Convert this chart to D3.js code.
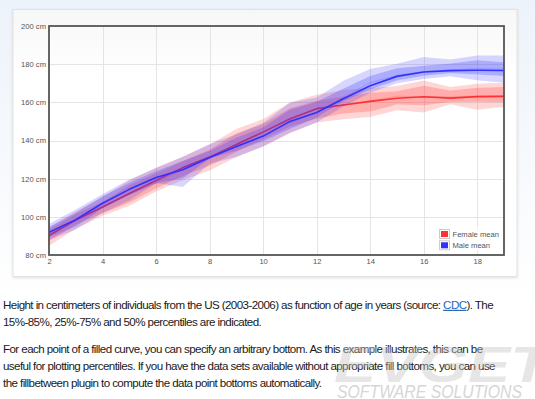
<!DOCTYPE html>
<html><head><meta charset="utf-8">
<script src="https://cdn.jsdelivr.net/npm/d3@7/dist/d3.min.js"></script>
<style>html,body{margin:0;padding:0;background:#fff;overflow:hidden}svg{display:block}</style>
</head><body>
<svg id="c" width="535" height="399"></svg>
<script>
// ---- data (height in cm by age, US 2003-2006, CDC) ----
const ages = [2,3,4,5,6,7,8,9,10,11,12,13,14,15,16,17,18,19];

const maleMean = [91.9,98.5,107.1,114.4,120.6,124.7,131.1,136.8,142.3,150.0,154.7,161.9,168.7,173.6,175.9,176.6,176.8,176.7];
const maleP15  = [88.0,93.3,102.0,108.5,117.7,115.6,127.8,131.4,136.8,144.1,149.4,157.8,165.0,170.0,172.2,173.7,171.6,170.2];
const maleP25  = [89.2,94.9,104.4,111.4,117.5,120.2,130.4,134.6,139.6,146.0,152.0,160.6,166.7,171.4,173.9,175.3,174.6,173.8];
const maleP50  = [91.4,98.6,106.9,114.4,120.4,125.4,131.4,136.7,142.2,149.4,154.6,162.6,170.3,174.2,176.1,177.1,177.6,177.4];
const maleP75  = [94.5,102.1,110.8,117.9,124.0,129.3,134.6,141.4,147.0,156.1,160.3,167.3,173.8,177.9,179.2,180.4,182.1,181.0];
const maleP85  = [96.2,103.8,111.8,119.6,125.6,131.5,138.0,143.3,149.3,159.8,162.5,171.3,177.5,180.2,183.8,182.5,184.5,184.6];

const femaleMean = [90.2,98.3,105.2,112.2,119.0,125.8,131.3,137.9,144.4,151.3,156.7,158.6,160.5,162.1,162.9,162.2,163.0,163.1];
const femaleP15  = [84.8,93.7,100.6,105.8,113.3,119.3,124.3,131.4,136.9,143.8,149.4,151.2,152.3,155.9,154.7,159.0,156.1,157.7];
const femaleP25  = [87.2,95.9,101.9,107.4,114.8,121.4,126.8,134.0,140.7,147.2,151.4,154.1,155.2,158.8,158.5,160.2,160.3,160.1];
const femaleP50  = [90.2,98.1,105.2,111.7,118.2,124.6,130.5,138.3,144.7,151.8,156.7,158.6,160.8,163.2,162.8,162.8,163.3,163.3];
const femaleP75  = [93.2,101.5,107.9,116.6,122.8,129.3,135.2,143.7,148.7,156.9,160.8,163.0,165.0,165.8,168.7,166.2,167.6,168.0];
const femaleP85  = [94.5,102.8,110.4,119.0,125.7,131.5,137.9,146.0,151.3,159.9,164.0,166.5,167.5,168.5,171.5,168.0,169.8,170.3];

const xTicks = [2,4,6,8,10,12,14,16,18];
const yTicks = [80,100,120,140,160,180,200];
const legendLabels = ["Female mean","Male mean"];

const captionLines = [
  ["Height in centimeters of individuals from the US (2003-2006) as function of age in years (source: ", "CDC", "). The"],
  ["15%-85%, 25%-75% and 50% percentiles are indicated."],
  ["For each point of a filled curve, you can specify an arbitrary bottom. As this example illustrates, this can be"],
  ["useful for plotting percentiles. If you have the data sets available without appropriate fill bottoms, you can use"],
  ["the fillbetween plugin to compute the data point bottoms automatically."]
];

// ---- drawing ----
const svg = d3.select("#c");
const defs = svg.append("defs");
const bg = defs.append("linearGradient").attr("id","bg").attr("x1",0).attr("y1",0).attr("x2",0).attr("y2",1);
bg.append("stop").attr("offset","0%").attr("stop-color","#edf3fa");
bg.append("stop").attr("offset","75%").attr("stop-color","#ffffff");
const boxg = defs.append("linearGradient").attr("id","boxg").attr("x1",0).attr("y1",0).attr("x2",0).attr("y2",1);
boxg.append("stop").attr("offset","0%").attr("stop-color","#f7f7f7");
boxg.append("stop").attr("offset","25%").attr("stop-color","#ffffff");
const sh = defs.append("filter").attr("id","sh").attr("x","-5%").attr("y","-5%").attr("width","110%").attr("height","115%");
sh.append("feDropShadow").attr("dx",0).attr("dy",1).attr("stdDeviation",1.5).attr("flood-color","#000").attr("flood-opacity",0.12);

svg.append("rect").attr("width",535).attr("height",399).attr("fill","url(#bg)");
svg.append("rect").attr("x",13).attr("y",9.5).attr("width",504).attr("height",267)
  .attr("fill","url(#boxg)").attr("stroke","#e2e2e2").attr("stroke-width",1).attr("filter","url(#sh)");

const L = 49, R = 504, T = 26, B = 255;
const x = d3.scaleLinear().domain([2,19]).range([L,R]);
const y = d3.scaleLinear().domain([80,200]).range([B,T]);

defs.append("clipPath").attr("id","clip").append("rect").attr("x",L).attr("y",T).attr("width",R-L).attr("height",B-T);

// grid
const grid = svg.append("g");
grid.selectAll(".vx").data(xTicks.filter(d=>d>2)).join("line")
  .attr("x1",d=>Math.round(x(d))+0.5).attr("x2",d=>Math.round(x(d))+0.5).attr("y1",T).attr("y2",B)
  .attr("stroke","#e4e4e4").attr("stroke-width",1);
grid.selectAll(".hy").data(yTicks.filter(d=>d>80&&d<200)).join("line")
  .attr("y1",d=>Math.round(y(d))+0.5).attr("y2",d=>Math.round(y(d))+0.5).attr("x1",L).attr("x2",R)
  .attr("stroke","#e4e4e4").attr("stroke-width",1);

// axes (labels only, like flot)
const yAxis = d3.axisLeft(y).tickValues(yTicks).tickSize(0).tickPadding(3).tickFormat(d=>d+" cm");
const ya = svg.append("g").attr("transform",`translate(${L},0)`).call(yAxis);
ya.select(".domain").remove();
ya.selectAll("text").attr("font-family","Liberation Sans, Arial, sans-serif").attr("font-size",7.6).attr("fill","#545454");
const xAxis = d3.axisBottom(x).tickValues(xTicks).tickSize(0).tickPadding(4).tickFormat(d3.format("d"));
const xa = svg.append("g").attr("transform",`translate(0,${B})`).call(xAxis);
xa.select(".domain").remove();
xa.selectAll("text").attr("font-family","Liberation Sans, Arial, sans-serif").attr("font-size",7.6).attr("fill","#545454");

const plot = svg.append("g").attr("clip-path","url(#clip)");
const rows = (a,b) => ages.map((age,i)=>({age, lo:a[i], hi:b[i]}));
const area = d3.area().x(d=>x(d.age)).y0(d=>y(d.lo)).y1(d=>y(d.hi));
const line = d3.line().x((d,i)=>x(ages[i])).y(d=>y(d));

function drawGroup(color, mean, p15, p25, p50, p75, p85){
  plot.append("path").attr("d",line(mean)).attr("fill","none").attr("stroke",color).attr("stroke-width",1.6).attr("stroke-linejoin","round");
  const bands = [[p15,p25,0.2],[p25,p50,0.4],[p50,p75,0.4],[p75,p85,0.2]];
  bands.forEach(([a,b,o])=>{
    plot.append("path").attr("d",area(rows(a,b))).attr("fill",color).attr("fill-opacity",o).attr("stroke","none");
  });
  plot.append("path").attr("d",line(p50)).attr("fill","none").attr("stroke",color).attr("stroke-width",0.5).attr("stroke-opacity",0.5);
}
drawGroup("rgb(255,50,50)", femaleMean, femaleP15, femaleP25, femaleP50, femaleP75, femaleP85);
drawGroup("rgb(50,50,255)", maleMean, maleP15, maleP25, maleP50, maleP75, maleP85);

// border
svg.append("rect").attr("x",L).attr("y",T).attr("width",R-L).attr("height",B-T)
  .attr("fill","none").attr("stroke","#555").attr("stroke-width",1.8);

// legend
const lg = svg.append("g");
lg.append("rect").attr("x",437).attr("y",227).attr("width",63).attr("height",24).attr("fill","#fff").attr("fill-opacity",0.85);
const lcol = ["rgb(255,50,50)","rgb(50,50,255)"];
legendLabels.forEach((t,i)=>{
  const yy = 230 + i*11.3;
  lg.append("rect").attr("x",439.5).attr("y",yy-0.5).attr("width",10).attr("height",9).attr("fill","none").attr("stroke","#ccc").attr("stroke-width",1);
  lg.append("rect").attr("x",441).attr("y",yy+1).attr("width",7).attr("height",6).attr("fill",lcol[i]);
  lg.append("text").attr("x",452.5).attr("y",yy+7).text(t)
    .attr("font-family","Liberation Sans, Arial, sans-serif").attr("font-size",7.6).attr("fill","#545454");
});

// caption
const capY = [308.8, 325.6, 353, 369.8, 386.8];
const cap = svg.append("g").attr("font-family","Liberation Sans, Arial, sans-serif").attr("fill","#1a1a1a");
const fs = 11.6;
const line1 = captionLines[0].join("");
const probe = cap.append("text").attr("font-size",fs).text(line1);
const ls = (490 - probe.node().getComputedTextLength()) / line1.length;
probe.remove();
captionLines.forEach((parts,i)=>{
  const t = cap.append("text").attr("x",3).attr("y",capY[i]).attr("font-size",fs).attr("letter-spacing",ls);
  parts.forEach((p,j)=>{
    const ts = t.append("tspan").text(p);
    if (parts.length===3 && j===1) ts.attr("fill","#1f66b8").attr("text-decoration","underline");
  });
});

// watermark
const wm = svg.append("g").attr("font-family","Liberation Sans, Arial, sans-serif").attr("font-style","italic");
wm.append("text").attr("x",334).attr("y",382).text("EVGET").attr("font-size",50).attr("font-weight","bold")
  .attr("fill","#c4c4c4").attr("fill-opacity",0.42).attr("textLength",215).attr("lengthAdjust","spacingAndGlyphs");
wm.append("text").attr("x",337).attr("y",398).text("SOFTWARE SOLUTIONS").attr("font-size",19)
  .attr("fill","#d6d6d6").attr("textLength",185).attr("lengthAdjust","spacingAndGlyphs");
</script>
</body></html>
